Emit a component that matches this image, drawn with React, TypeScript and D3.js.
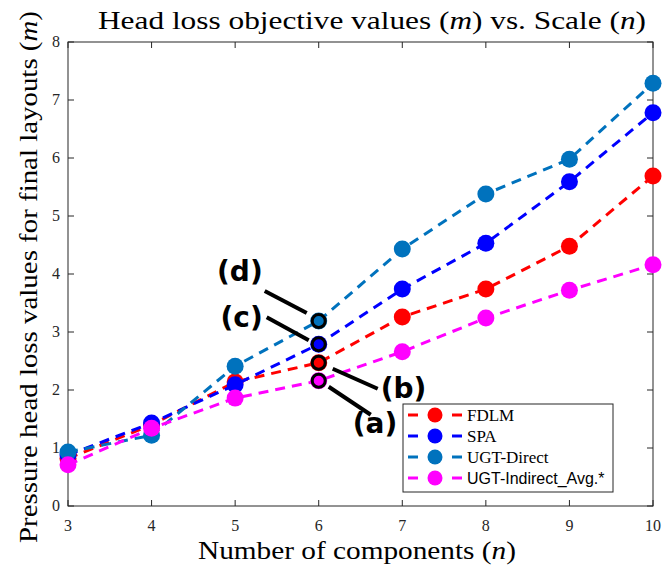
import React from "react";
import * as d3 from "d3";

const scales = [3, 4, 5, 6, 7, 8, 9, 10];
const fdlm = [0.82, 1.4, 2.14, 2.47, 3.26, 3.74, 4.48, 5.69];
const spa = [0.88, 1.43, 2.09, 2.79, 3.74, 4.53, 5.59, 6.78];
const ugtDirect = [0.93, 1.22, 2.41, 3.19, 4.43, 5.38, 5.98, 7.29];
const ugtIndirect = [0.71, 1.34, 1.86, 2.16, 2.66, 3.24, 3.72, 4.16];
const xTicks = [3, 4, 5, 6, 7, 8, 9, 10];
const yTicks = [0, 1, 2, 3, 4, 5, 6, 7, 8];
const seriesNames = ["FDLM", "SPA", "UGT-Direct", "UGT-Indirect_Avg.*"];
const seriesColors = ["#FF0000", "#0000FF", "#0072BD", "#FF00FF"];
const annotations = [
  { label: "(a)", series: 3, x: 6 },
  { label: "(b)", series: 0, x: 6 },
  { label: "(c)", series: 1, x: 6 },
  { label: "(d)", series: 2, x: 6 },
];

const W = 668;
const H = 571;
const serif = "'Liberation Serif', 'Times New Roman', serif";
const sans = "'Liberation Sans', Arial, sans-serif";
const bold = "'DejaVu Sans', sans-serif";

export default function App() {
  const allSeries = [fdlm, spa, ugtDirect, ugtIndirect];
  const x = d3.scaleLinear().domain([3, 10]).range([68, 653]);
  const y = d3.scaleLinear().domain([0, 8]).range([506, 42]);
  const line = d3
    .line<number>()
    .x((_, i) => x(scales[i]))
    .y((d) => y(d));
  const axisColor = "#262626";
  const tl = 6;

  const annoLayout: Record<string, { lx: number; ly: number; tx: number; ty: number; anchor: string; from: [number, number] }> = {
    "(d)": { lx: -54, ly: -30, tx: -56, ty: -40, anchor: "end", from: [-12, -8] },
    "(c)": { lx: -52, ly: -27, tx: -56, ty: -17, anchor: "end", from: [-10, -4] },
    "(b)": { lx: 59, ly: 26, tx: 62, ty: 35, anchor: "start", from: [14, 6] },
    "(a)": { lx: 52, ly: 34, tx: 34, ty: 52, anchor: "start", from: [10, 6] },
  };

  return (
    <svg width={W} height={H} style={{ display: "block", position: "absolute", left: 0, top: 0 }}>
      <rect width={W} height={H} fill="#fff" />
      {/* Title */}
      <text x={98} y={29} fontFamily={serif} fontSize={25} fill="#000" textLength={548} lengthAdjust="spacingAndGlyphs">
        Head loss objective values (<tspan fontStyle="italic">m</tspan>) vs. Scale (
        <tspan fontStyle="italic">n</tspan>)
      </text>
      {/* Axes box */}
      <rect x={68} y={42} width={585} height={464} fill="none" stroke={axisColor} strokeWidth={1} />
      {xTicks.map((t) => (
        <g key={"xt" + t}>
          <line x1={x(t)} x2={x(t)} y1={506} y2={506 - tl} stroke={axisColor} />
          <line x1={x(t)} x2={x(t)} y1={42} y2={42 + tl} stroke={axisColor} />
          <text x={x(t)} y={531} textAnchor="middle" fontFamily={serif} fontSize={16} fill="#262626">
            {t}
          </text>
        </g>
      ))}
      {yTicks.map((t) => (
        <g key={"yt" + t}>
          <line x1={68} x2={68 + tl} y1={y(t)} y2={y(t)} stroke={axisColor} />
          <line x1={653} x2={653 - tl} y1={y(t)} y2={y(t)} stroke={axisColor} />
          <text x={60} y={y(t) + 5} textAnchor="end" fontFamily={serif} fontSize={16} fill="#262626">
            {t}
          </text>
        </g>
      ))}
      {/* Axis labels */}
      <text x={198} y={559} fontFamily={serif} fontSize={25} fill="#000" textLength={318} lengthAdjust="spacingAndGlyphs">
        Number of components (<tspan fontStyle="italic">n</tspan>)
      </text>
      <text
        transform="translate(37,543) rotate(-90)"
        fontFamily={serif}
        fontSize={25}
        fill="#000"
        textLength={532}
        lengthAdjust="spacingAndGlyphs"
      >
        Pressure head loss values for final layouts (<tspan fontStyle="italic">m</tspan>)
      </text>
      {/* Series */}
      {allSeries.map((s, si) => (
        <g key={"s" + si}>
          <path d={line(s) || ""} fill="none" stroke={seriesColors[si]} strokeWidth={3} strokeDasharray="10,7" />
          {s.map((v, i) => (
            <circle key={i} cx={x(scales[i])} cy={y(v)} r={8.5} fill={seriesColors[si]} />
          ))}
        </g>
      ))}
      {/* Annotations */}
      {annotations.map((a) => {
        const idx = scales.indexOf(a.x);
        const cx = x(a.x);
        const cy = y(allSeries[a.series][idx]);
        const L = annoLayout[a.label];
        return (
          <g key={a.label}>
            <line x1={cx + L.from[0]} y1={cy + L.from[1]} x2={cx + L.lx} y2={cy + L.ly} stroke="#000" strokeWidth={4} />
            <circle cx={cx} cy={cy} r={6.5} fill={seriesColors[a.series]} stroke="#000" strokeWidth={3} />
            <text x={cx + L.tx} y={cy + L.ty} textAnchor={L.anchor as any} fontFamily={bold} fontWeight="bold" fontSize={28} fill="#000">
              {a.label}
            </text>
          </g>
        );
      })}
      {/* Legend */}
      <g>
        <rect x={403} y={404} width={210} height={88} fill="#fff" stroke={axisColor} strokeWidth={1} />
        {seriesNames.map((n, i) => {
          const ry = 415 + i * 21;
          return (
            <g key={n}>
              <line x1={408} x2={418} y1={ry} y2={ry} stroke={seriesColors[i]} strokeWidth={3} />
              <line x1={452} x2={462} y1={ry} y2={ry} stroke={seriesColors[i]} strokeWidth={3} />
              <circle cx={435} cy={ry} r={7.5} fill={seriesColors[i]} />
              <text
                x={467}
                y={ry + 6}
                fontFamily={i === 3 ? sans : serif}
                fontSize={i === 3 ? 16 : 17}
                fill="#000"
              >
                {n}
              </text>
            </g>
          );
        })}
      </g>
    </svg>
  );
}
